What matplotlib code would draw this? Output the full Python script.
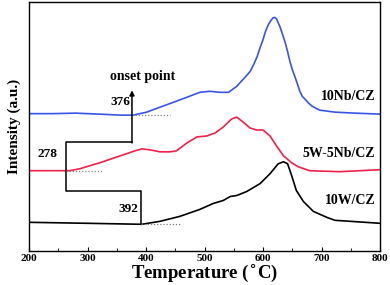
import numpy as np
import matplotlib
matplotlib.use("Agg")
import matplotlib.pyplot as plt
from matplotlib.ticker import MultipleLocator

plt.rcParams["font.family"] = ["Liberation Serif", "DejaVu Serif"]
plt.rcParams["font.weight"] = "bold"

# curves (temperature in C, intensity in a.u.)
nb_temp = [200, 240, 280, 320, 356, 378, 401, 424, 447, 470, 492, 509, 526, 541, 555,
           569, 578, 584, 590, 595, 600, 604, 609, 613, 617, 620, 623, 629, 633, 638,
           642, 646, 650, 655, 659, 663, 667, 672, 678, 684, 690, 697, 710, 723, 757, 800]
nb_int = [138.5, 138.5, 139, 138, 137, 137, 140, 145, 150, 155, 160, 161, 160, 160, 166,
          175, 181, 188, 196, 205, 213, 221, 228, 232, 235, 235.5, 234, 226, 219, 210,
          201, 191, 183, 175, 168, 161, 156, 153, 149, 146, 144, 142, 141, 140, 139, 138]

wnb_temp = [200, 240, 270, 287, 321, 356, 381, 393, 407, 424, 441, 452, 470, 487, 504,
            518, 532, 546, 555, 564, 578, 589, 600, 612, 623, 635, 649, 660, 680, 731, 800]
wnb_int = [81, 81, 81, 83, 89, 96, 101, 103, 102, 100, 100, 101, 109, 115, 116,
           119, 125, 133, 135, 131, 124, 122, 122, 116, 106, 96, 89, 85, 81, 80, 82]

w_temp = [200, 300, 393, 424, 458, 492, 515, 532, 544, 555, 572, 595, 612, 626, 635,
          642, 649, 657, 669, 686, 709, 723, 749, 800]
w_int = [29, 28, 27, 30, 35, 42, 48, 51, 55, 56, 60, 68, 78, 88, 90,
         88, 76, 61, 50, 40, 34, 31, 30, 28]

onset_temp = [376, 278, 392]
onset_label = ["376", "278", "392"]
sample_names = ["10Nb/CZ", "5W-5Nb/CZ", "10W/CZ"]

fig = plt.figure(figsize=(3.9, 2.85), dpi=100)
ax = fig.add_axes([0.0744, 0.119, 0.9, 0.874])

ax.plot(nb_temp, nb_int, color="#3a55e6", lw=1.2)
ax.plot(wnb_temp, wnb_int, color="#f2204a", lw=1.2)
ax.plot(w_temp, w_int, color="black", lw=1.2)

# onset markers: step line joining the three onset points
step_x = [onset_temp[2], onset_temp[2], 263, 263, onset_temp[0]]
step_y = [27, 61, 61, 110, 110]
ax.plot(step_x, step_y, color="black", lw=1.1)
ax.annotate("", xy=(onset_temp[0], 162), xytext=(onset_temp[0], 109),
            arrowprops=dict(arrowstyle="-|>", color="black", lw=1.1,
                            mutation_scale=7, shrinkA=0, shrinkB=0))

# dotted baselines
ax.plot([376, 441], [137, 137], ls=(0, (1, 1.5)), color="gray", lw=0.9)
ax.plot([263, 326], [81, 81], ls=(0, (1, 1.5)), color="gray", lw=0.9)
ax.plot([392, 458], [27, 27], ls=(0, (1, 1.5)), color="gray", lw=0.9)

ax.text(395, 176, "onset point", ha="center", va="center", fontsize=10, fontweight="bold")
ax.text(356, 150, onset_label[0], ha="center", va="center", fontsize=9.5, fontweight="bold")
ax.text(232, 98, onset_label[1], ha="center", va="center", fontsize=9.5, fontweight="bold")
ax.text(369, 42, onset_label[2], ha="center", va="center", fontsize=9.5, fontweight="bold")

ax.text(792, 156, sample_names[0], ha="right", va="center", fontsize=10, fontweight="bold")
ax.text(792, 98, sample_names[1], ha="right", va="center", fontsize=10, fontweight="bold")
ax.text(792, 51, sample_names[2], ha="right", va="center", fontsize=10, fontweight="bold")

ax.set_xlim(200, 800)
ax.set_ylim(0, 251)
ax.xaxis.set_major_locator(MultipleLocator(100))
ax.xaxis.set_minor_locator(MultipleLocator(50))
ax.tick_params(axis="x", which="both", direction="in", top=False, labelsize=8, pad=2)
ax.tick_params(axis="x", which="major", length=3)
ax.tick_params(axis="x", which="minor", length=2)
ax.set_yticks([])
for lbl in ax.get_xticklabels():
    lbl.set_fontweight("bold")
for s in ax.spines.values():
    s.set_linewidth(1.0)

ax.set_xlabel("Temperature ($^{\\circ}$C)", fontsize=13.5, fontweight="bold", labelpad=0)
ax.set_ylabel("Intensity (a.u.)", fontsize=11, fontweight="bold", labelpad=6)

fig.savefig("out.png", dpi=100)
